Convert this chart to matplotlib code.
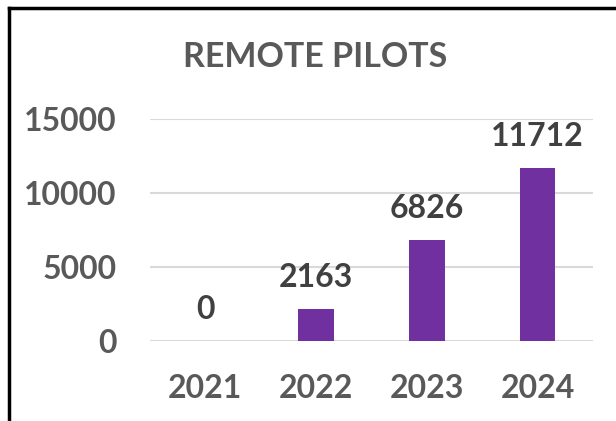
import matplotlib.pyplot as plt
from matplotlib.lines import Line2D

years = ["2021", "2022", "2023", "2024"]
pilots = [0, 2163, 6826, 11712]
y_ticks = [0, 5000, 10000, 15000]

plt.rcParams["font.family"] = ["Lato", "DejaVu Sans"]

fig = plt.figure(figsize=(6.16, 4.21), dpi=100)
ax = fig.add_axes([0.2435, 0.190, 0.7192, 0.5273])

x = range(len(years))
bars = ax.bar(x, pilots, width=0.32, color="#7030A0", zorder=3)

for i, v in enumerate(pilots):
    ax.annotate(str(v), (i, v), xytext=(0, 12), textcoords="offset points",
                ha="center", va="bottom", fontsize=23, fontweight="bold",
                color="#404040")

ax.set_xlim(-0.5, len(years) - 0.5)
ax.set_ylim(0, 15000)
ax.set_yticks(y_ticks)
ax.set_yticklabels([str(t) for t in y_ticks])
ax.set_xticks(list(x))
ax.set_xticklabels(years)
ax.tick_params(axis="both", length=0, labelsize=23, labelcolor="#595959")
ax.tick_params(axis="y", pad=24)
ax.tick_params(axis="x", pad=24)
for lbl in ax.get_xticklabels() + ax.get_yticklabels():
    lbl.set_fontweight("bold")
ax.grid(axis="y", color="#d9d9d9", linewidth=1.5, zorder=0)
for s in ax.spines.values():
    s.set_visible(False)

fig.text(0.512, 0.865, "REMOTE PILOTS", ha="center", va="center",
         fontsize=24.5, fontweight="bold", color="#595959")

# chart frame (left and top edges)
fig.add_artist(Line2D([0.015, 0.015], [0, 0.98], transform=fig.transFigure,
                      color="black", linewidth=2.5))
fig.add_artist(Line2D([0.015, 1.0], [0.98, 0.98], transform=fig.transFigure,
                      color="black", linewidth=2.5))

fig.savefig("out.png", dpi=100)
